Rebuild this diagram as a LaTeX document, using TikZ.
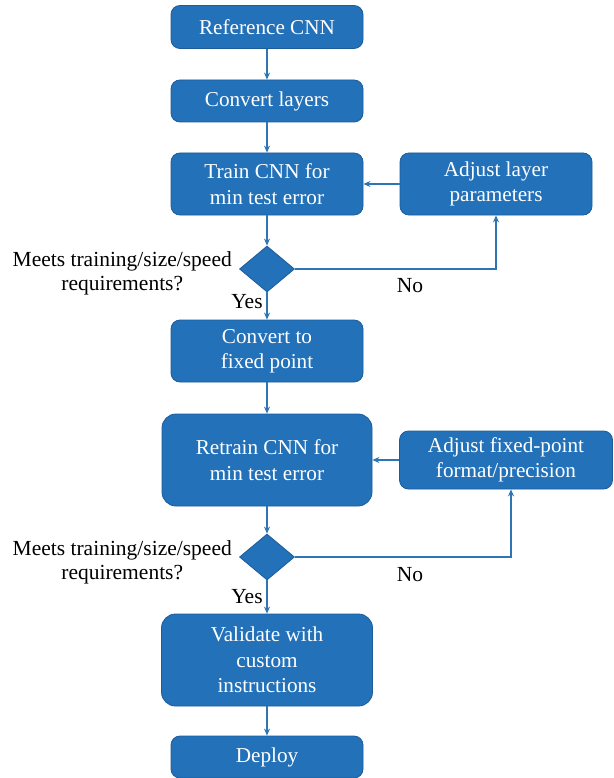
\documentclass[tikz,border=0pt]{standalone}
\usepackage{fontspec}
\setmainfont{Liberation Serif}
\usetikzlibrary{shapes.geometric,arrows.meta,calc}
\definecolor{boxblue}{RGB}{34,113,185}
\definecolor{edgeblue}{RGB}{28,92,155}
\definecolor{lineblue}{RGB}{46,117,182}
\begin{document}
\begin{tikzpicture}[x=1pt,y=-1pt,
  box/.style={draw=edgeblue, line width=0.8pt, fill=boxblue, rounded corners=9pt, text=white, align=center, font=\fontsize{21.2}{25.5}\selectfont, inner sep=0pt},
  dec/.style={diamond, fill=boxblue, draw=edgeblue, line width=0.8pt, inner sep=0pt, minimum width=55pt, minimum height=46pt},
  conn/.style={draw=lineblue, line width=1.1pt, -{Stealth[length=7pt,width=6pt]}},
  lab/.style={font=\fontsize{21.5}{24}\selectfont, align=center, inner sep=0pt}]
\fill[white] (0,0) rectangle (613,778);
\useasboundingbox (0,0) rectangle (613,778);

\node[box, minimum width=192pt, minimum height=43pt] (ref) at (267,27) {Reference CNN};
\node[box, minimum width=192pt, minimum height=42pt] (conv) at (267,101) {Convert layers};
\node[box, minimum width=192pt, minimum height=62pt] (train) at (267,184) {Train CNN for\\min test error};
\node[box, minimum width=192pt, minimum height=62pt] (adj1) at (496,184) {Adjust layer\\parameters};
\node[dec] (dia1) at (267,269) {};
\node[lab, anchor=east] (q1) at (232,273) {Meets training/size/speed\\requirements?};
\node[lab] (yes1) at (247,302) {Yes};
\node[lab] (no1) at (410,286) {No};
\node[box, minimum width=192pt, minimum height=62pt] (fix) at (267,351) {Convert to\\fixed point};
\node[box, minimum width=210pt, minimum height=92pt, rounded corners=14pt] (retrain) at (267,460) {Retrain CNN for\\min test error};
\node[box, minimum width=213pt, minimum height=58pt] (adj2) at (506,460) {Adjust fixed-point\\format/precision};
\node[dec] (dia2) at (267,557) {};
\node[lab, anchor=east] (q2) at (232,562) {Meets training/size/speed\\requirements?};
\node[lab] (yes2) at (247,597) {Yes};
\node[lab] (no2) at (410,575) {No};
\node[box, minimum width=211pt, minimum height=92pt, rounded corners=14pt] (valid) at (267,660) {Validate with\\custom\\instructions};
\node[box, minimum width=192pt, minimum height=42pt] (deploy) at (267,757) {Deploy};

\draw[conn] (ref) -- (conv);
\draw[conn] (conv) -- (train);
\draw[conn] (train) -- (dia1);
\draw[conn] (dia1) -- (fix);
\draw[conn] (fix) -- (retrain);
\draw[conn] (retrain) -- (dia2);
\draw[conn] (dia2) -- (valid);
\draw[conn] (valid) -- (deploy);
\draw[conn] (adj1.west) -- (train.east);
\draw[conn] (adj2.west) -- (retrain.east);
\draw[conn] (dia1.east) -| (adj1.south);
\draw[conn] (dia2.east) -| ($(adj2.south)+(5,0)$);
\end{tikzpicture}
\end{document}
